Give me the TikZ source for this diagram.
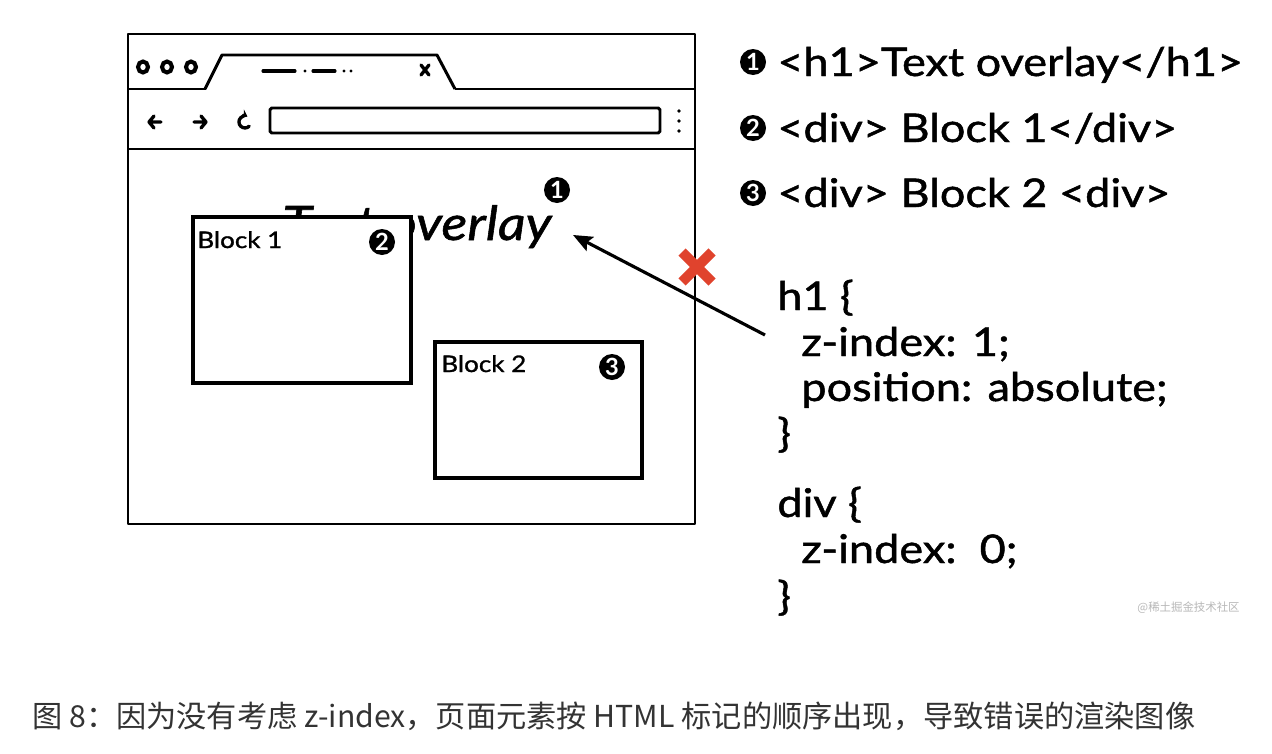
\documentclass[tikz,border=0pt]{standalone}
\usepackage{fontspec}
\setmainfont{Lato}[FakeStretch=1.14, FakeBold=1.2]
\newfontfamily\cjk{Noto Sans CJK SC}
\newfontfamily\badgefont{Lato Bold}
\usetikzlibrary{arrows.meta}
\definecolor{xred}{HTML}{E0432D}
\definecolor{captiongray}{HTML}{333333}
\definecolor{wmgray}{HTML}{B8B8B8}
\newdimen\pxu \pxu=0.02cm
\tikzset{
  frame/.style={line width=1.7pt, line join=round},
  blockbox/.style={draw, line width=2.3pt, fill=white},
  badge/.style={circle, fill=black, text=white, inner sep=0pt, minimum size=#1, font=\badgefont\fontsize{13.5}{13.5}\selectfont},
  listtext/.style={anchor=base west, inner sep=0pt, font=\fontsize{22.5}{27}\selectfont},
  csstext/.style={anchor=base west, inner sep=0pt, font=\fontsize{22.5}{27}\selectfont},
  blocklabel/.style={anchor=base west, inner sep=0pt, font=\fontsize{13}{15}\selectfont},
  icon/.style={line width=1.9pt, line cap=round, line join=round},
}
\begin{document}
\begin{tikzpicture}[x=0.02cm, y=-0.02cm]
\useasboundingbox[fill=white] (0,0) rectangle (1272,754);
% browser frame
\draw[frame] (128,34) rectangle (695,524);
\draw[frame] (128,89) -- (206,89);
\draw[frame] (455,89) -- (695,89);
\draw[frame] (128,149) -- (695,149);
% tab
\draw[frame] (205,89) -- (222,55) -- (437,55) -- (455,89);
% window buttons
\foreach \cx in {143,167,191} \draw[line width=2.3pt] (\cx,67) ellipse (5 and 5.5);
% tab title dashes
\draw[line width=1.8pt, line cap=round] (263,71) -- (295,71) (313,71) -- (335,71);
\fill (305,71) circle (1.6) (344,71) circle (1.6) (351,71) circle (1.6);
\draw[line width=1.9pt, line cap=round] (421,65) -- (429,75) (429,65) -- (421,75);
% nav icons
\draw[icon] (161,122) -- (149,122) (154,116) -- (149,122) -- (154,128);
\draw[icon] (194,122) -- (206,122) (201,116) -- (206,122) -- (201,128);
\draw[icon, -{Stealth[length=3.5pt,width=5.5pt]}] (249.2,126.2) arc (45:295:6);
% address bar
\draw[line width=1.7pt, rounded corners=1pt] (270,108) rectangle (660,133);
\fill (679,111) circle (1.8) (679,121) circle (1.8) (679,131) circle (1.8);
% text overlay
\node[anchor=base west, inner sep=0pt, font=\fontsize{27}{32}\selectfont\itshape] (overlay) at (282,240) {Text overlay};
\node[badge=26\pxu] (b1) at (557,190) {1};
% block 1
\node[blockbox, minimum width=218\pxu, minimum height=166\pxu, anchor=north west] (block1) at (191,215) {};
\node[blocklabel] (lab1) at (197,248) {Block 1};
\node[badge=26\pxu] (b2) at (382,242) {2};
% block 2
\node[blockbox, minimum width=207\pxu, minimum height=136\pxu, anchor=north west] (block2) at (433,340) {};
\node[blocklabel] (lab2) at (441,372) {Block 2};
\node[badge=26\pxu] (b3) at (612,367) {3};
% list
\node[badge=26\pxu] (l1) at (753,62) {1};
\node[listtext] (t1) at (777,76) {<h1>Text overlay</h1>};
\node[badge=26\pxu] (l2) at (753,128) {2};
\node[listtext] (t2) at (777,142) {<div> Block 1</div>};
\node[badge=26\pxu] (l3) at (753,193) {3};
\node[listtext] (t3) at (777,207) {<div> Block 2 <div>};
% css
\node[csstext] (c1) at (777,310) {h1 \{};
\node[csstext] (c2) at (801,356) {z-index: 1;};
\node[csstext] (c3) at (801,401) {position: absolute;};
\node[csstext] (c4) at (777,447) {\}};
\node[csstext] (c5) at (777,517) {div \{};
\node[csstext] (c6) at (801,563) {z-index:\ \ 0;};
\node[csstext] (c7) at (777,610) {\}};
% arrow
\coordinate (astart) at (765,335);
\coordinate (aend) at (573,235);
\draw[line width=1.8pt, -{Stealth[length=11pt,width=9pt,inset=2pt]}] (astart) -- (aend);
% red cross
\draw[xred, line width=10\pxu] (682,252) -- (712,282) (712,252) -- (682,282);
% watermark
\node[anchor=base east, inner sep=0pt, text=wmgray, font=\cjk\fontsize{6.5}{7}\selectfont] (wm) at (1240,611) {@稀土掘金技术社区};
% caption
\node[anchor=base west, inner sep=0pt, text=captiongray, font=\cjk\fontsize{17.2}{20}\selectfont] (cap) at (32,727) {图 8：因为没有考虑 z-index，页面元素按 HTML 标记的顺序出现，导致错误的渲染图像};
\end{tikzpicture}
\end{document}
